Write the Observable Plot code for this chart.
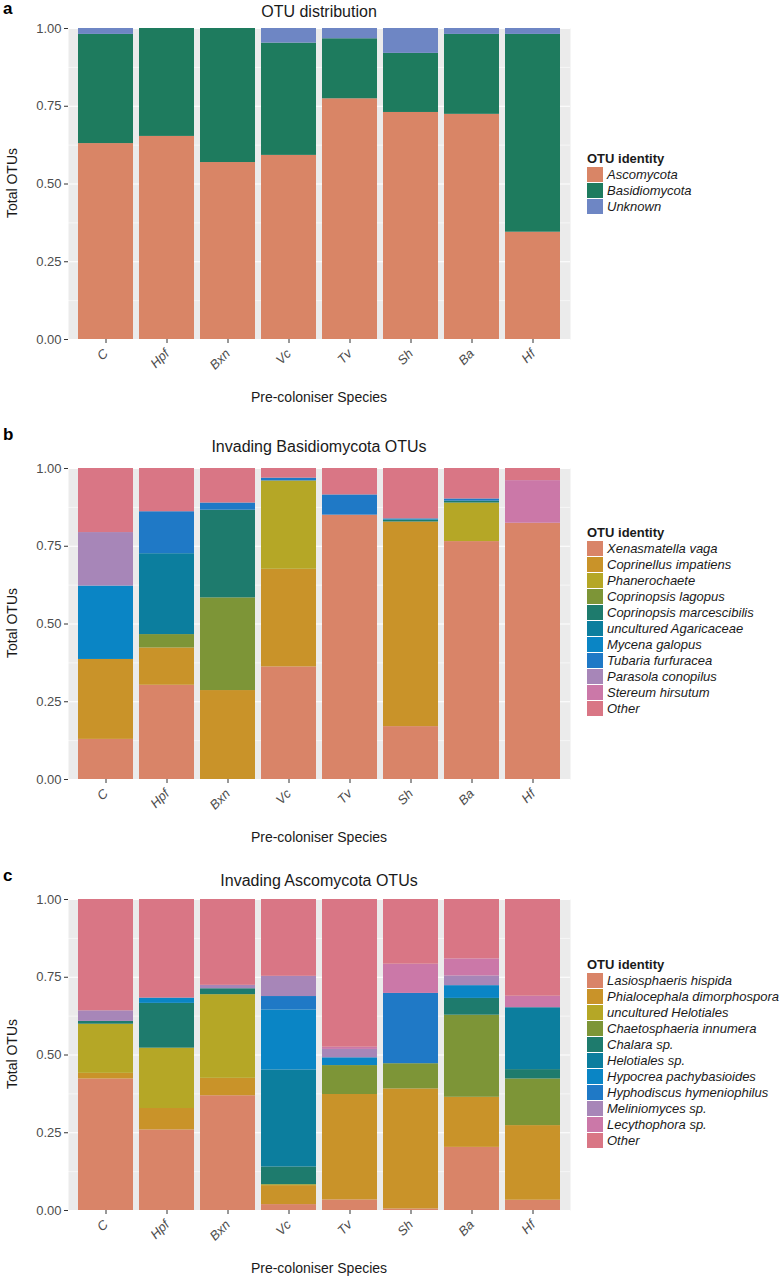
<!DOCTYPE html>
<html>
<head>
<meta charset="utf-8">
<script src="https://cdn.jsdelivr.net/npm/d3@7"></script>
<script src="https://cdn.jsdelivr.net/npm/@observablehq/plot@0.6"></script>
<style>
  html, body { margin: 0; padding: 0; background: #fff; }
  body { font-family: "Liberation Sans", Arial, Helvetica, sans-serif; }
  #root { position: relative; width: 784px; height: 1276px; overflow: hidden; }
  .abs { position: absolute; }
  .letter { font-weight: bold; font-size: 17px; line-height: 17px; color: #000; }
  .ptitle { font-size: 16px; color: #1a1a1a; text-align: center; white-space: nowrap; }
  .xtitle { font-size: 14px; color: #1a1a1a; text-align: center; white-space: nowrap; }
  .ytitle { font-size: 14px; color: #1a1a1a; white-space: nowrap; transform: rotate(-90deg); transform-origin: center center; text-align: center; }
  .legend { font-size: 13px; color: #1a1a1a; }
  .legend .lt { font-weight: bold; height: 17px; line-height: 17px; }
  .legend .row { display: flex; align-items: center; height: 16px; }
  .legend .sw { width: 16px; height: 15.5px; margin-right: 4px; box-sizing: border-box; border-bottom: 0.5px solid #fff; }
  .legend .lab { font-style: italic; line-height: 16px; }
</style>
</head>
<body>
<div id="root"></div>
<script>
// ---------- Data ----------
const preColonisers = ["C", "Hpf", "Bxn", "Vc", "Tv", "Sh", "Ba", "Hf"];

// Panel a: OTU distribution
const phylumGroups = ["Ascomycota", "Basidiomycota", "Unknown"];
const phylumColors = ["#D98566", "#1E7B5E", "#6E86C4"];
const phylumShares = [
  [0.630, 0.653, 0.569, 0.592, 0.774, 0.730, 0.724, 0.345], // Ascomycota
  [0.351, 0.347, 0.431, 0.361, 0.193, 0.190, 0.257, 0.636], // Basidiomycota
  [0.019, 0.000, 0.000, 0.047, 0.033, 0.080, 0.019, 0.019]  // Unknown
];

// Panel b: Invading Basidiomycota OTUs
const basidioTaxa = [
  "Xenasmatella vaga", "Coprinellus impatiens", "Phanerochaete", "Coprinopsis lagopus",
  "Coprinopsis marcescibilis", "uncultured Agaricaceae", "Mycena galopus", "Tubaria furfuracea",
  "Parasola conopilus", "Stereum hirsutum", "Other"
];
const basidioShares = [
  [0.129, 0.303, 0.000, 0.362, 0.850, 0.170, 0.765, 0.824], // Xenasmatella vaga
  [0.257, 0.120, 0.286, 0.314, 0.000, 0.658, 0.000, 0.000], // Coprinellus impatiens
  [0.000, 0.000, 0.000, 0.284, 0.000, 0.000, 0.124, 0.000], // Phanerochaete
  [0.000, 0.043, 0.298, 0.000, 0.000, 0.000, 0.000, 0.000], // Coprinopsis lagopus
  [0.000, 0.000, 0.282, 0.000, 0.000, 0.006, 0.006, 0.000], // Coprinopsis marcescibilis
  [0.000, 0.260, 0.000, 0.000, 0.000, 0.000, 0.000, 0.000], // uncultured Agaricaceae
  [0.236, 0.000, 0.000, 0.000, 0.000, 0.004, 0.000, 0.000], // Mycena galopus
  [0.000, 0.135, 0.023, 0.009, 0.065, 0.000, 0.007, 0.000], // Tubaria furfuracea
  [0.172, 0.000, 0.000, 0.000, 0.000, 0.000, 0.000, 0.000], // Parasola conopilus
  [0.000, 0.000, 0.000, 0.000, 0.000, 0.000, 0.000, 0.137], // Stereum hirsutum
  [0.206, 0.139, 0.111, 0.031, 0.085, 0.162, 0.098, 0.039]  // Other
];

// Panel c: Invading Ascomycota OTUs
const ascoTaxa = [
  "Lasiosphaeris hispida", "Phialocephala dimorphospora", "uncultured Helotiales", "Chaetosphaeria innumera",
  "Chalara sp.", "Helotiales sp.", "Hypocrea pachybasioides", "Hyphodiscus hymeniophilus",
  "Meliniomyces sp.", "Lecythophora sp.", "Other"
];
const ascoShares = [
  [0.423, 0.259, 0.369, 0.019, 0.034, 0.005, 0.203, 0.033], // Lasiosphaeris hispida
  [0.018, 0.069, 0.056, 0.061, 0.339, 0.386, 0.161, 0.240], // Phialocephala dimorphospora
  [0.158, 0.194, 0.269, 0.003, 0.000, 0.000, 0.000, 0.000], // uncultured Helotiales
  [0.000, 0.000, 0.000, 0.000, 0.093, 0.081, 0.264, 0.150], // Chaetosphaeria innumera
  [0.009, 0.144, 0.019, 0.057, 0.000, 0.000, 0.054, 0.030], // Chalara sp.
  [0.000, 0.000, 0.000, 0.312, 0.000, 0.000, 0.000, 0.199], // Helotiales sp.
  [0.000, 0.017, 0.000, 0.193, 0.025, 0.000, 0.041, 0.000], // Hypocrea pachybasioides
  [0.000, 0.000, 0.000, 0.043, 0.000, 0.226, 0.000, 0.000], // Hyphodiscus hymeniophilus
  [0.034, 0.000, 0.011, 0.065, 0.027, 0.000, 0.031, 0.000], // Meliniomyces sp.
  [0.000, 0.000, 0.000, 0.000, 0.007, 0.094, 0.055, 0.037], // Lecythophora sp.
  [0.358, 0.317, 0.276, 0.247, 0.475, 0.208, 0.191, 0.311]  // Other
];

const taxonColors = [
  "#D98468", "#C99329", "#B5A726", "#7D9537", "#1E7B6D", "#0C7E9E",
  "#0A85C5", "#1F79C6", "#A786B8", "#CB78A8", "#D97685"
];

const yTicks = [0, 0.25, 0.5, 0.75, 1];
const yMinor = [0.125, 0.375, 0.625, 0.875];

// ---------- Layout ----------
const root = document.getElementById("root");
const PANEL_LEFT = 68, PANEL_RIGHT = 570, PANEL_H = 311;

function toTable(taxa, shares) {
  const rows = [];
  taxa.forEach((t, i) => preColonisers.forEach((s, j) => {
    if (shares[i][j] > 0) rows.push({ species: s, taxon: t, value: shares[i][j] });
  }));
  return rows;
}

function addText(cls, text, css) {
  const d = document.createElement("div");
  d.className = "abs " + cls;
  d.textContent = text;
  Object.assign(d.style, css);
  root.appendChild(d);
  return d;
}

function drawPanel(opt) {
  const { letter, title, taxa, shares, colors, panelTop, titleY, letterTop, legendTop } = opt;
  const table = toTable(taxa, shares);
  const mt = 20, H = 410;
  const chart = Plot.plot({
    width: 784,
    height: H,
    marginLeft: PANEL_LEFT,
    marginRight: 784 - PANEL_RIGHT,
    marginTop: mt,
    marginBottom: H - mt - PANEL_H,
    style: { fontFamily: '"Liberation Sans", Arial, Helvetica, sans-serif', fontSize: "13px", color: "#4D4D4D", background: "transparent", overflow: "visible" },
    x: { domain: preColonisers, paddingInner: 0.1, paddingOuter: 0.15, align: 0.5, label: null },
    y: { domain: [0, 1], label: null },
    color: { domain: taxa, range: colors },
    marks: [
      Plot.frame({ fill: "#EBEBEB", stroke: null }),
      Plot.gridY(yMinor, { stroke: "#ffffff", strokeOpacity: 1, strokeWidth: 0.55 }),
      Plot.gridY(yTicks, { stroke: "#ffffff", strokeOpacity: 1, strokeWidth: 1.1 }),
      Plot.barY(table, { x: "species", y: "value", fill: "taxon", inset: 0 }),
      Plot.axisY(yTicks, { tickFormat: d3.format(".2f"), tickSize: 4, tickPadding: 3, stroke: "#333333", fill: "#4D4D4D", fontSize: 13, label: null }),
      Plot.axisX({ tickRotate: -45, tickSize: 4, tickPadding: 8, stroke: "#333333", fill: "#4D4D4D", fontSize: 13, fontStyle: "italic", label: null })
    ]
  });
  chart.style.position = "absolute";
  chart.style.left = "0px";
  chart.style.top = (panelTop - mt) + "px";
  root.appendChild(chart);

  addText("letter", letter, { left: "3px", top: letterTop + "px" });
  addText("ptitle", title, { left: PANEL_LEFT + "px", width: (PANEL_RIGHT - PANEL_LEFT) + "px", top: (titleY - 10) + "px" });
  addText("xtitle", "Pre-coloniser Species", { left: PANEL_LEFT + "px", width: (PANEL_RIGHT - PANEL_LEFT) + "px", top: (panelTop + PANEL_H + 59 - 9) + "px" });
  addText("ytitle", "Total OTUs", { left: (12 - 50) + "px", width: "100px", top: (panelTop + PANEL_H / 2 - 9) + "px" });

  // legend
  const lg = document.createElement("div");
  lg.className = "abs legend";
  lg.style.left = "587px";
  lg.style.top = (legendTop - 17) + "px";
  const lt = document.createElement("div");
  lt.className = "lt";
  lt.textContent = "OTU identity";
  lg.appendChild(lt);
  taxa.forEach((t, i) => {
    const r = document.createElement("div");
    r.className = "row";
    const sw = document.createElement("div");
    sw.className = "sw";
    sw.style.background = colors[i];
    const lab = document.createElement("div");
    lab.className = "lab";
    lab.textContent = t;
    r.appendChild(sw); r.appendChild(lab);
    lg.appendChild(r);
  });
  root.appendChild(lg);
}

drawPanel({ letter: "a", title: "OTU distribution", taxa: phylumGroups, shares: phylumShares, colors: phylumColors,
  panelTop: 28, titleY: 13, letterTop: 0, legendTop: 167 });
drawPanel({ letter: "b", title: "Invading Basidiomycota OTUs", taxa: basidioTaxa, shares: basidioShares, colors: taxonColors,
  panelTop: 468, titleY: 448, letterTop: 426, legendTop: 541 });
drawPanel({ letter: "c", title: "Invading Ascomycota OTUs", taxa: ascoTaxa, shares: ascoShares, colors: taxonColors,
  panelTop: 899, titleY: 882, letterTop: 867, legendTop: 973 });
</script>
</body>
</html>
